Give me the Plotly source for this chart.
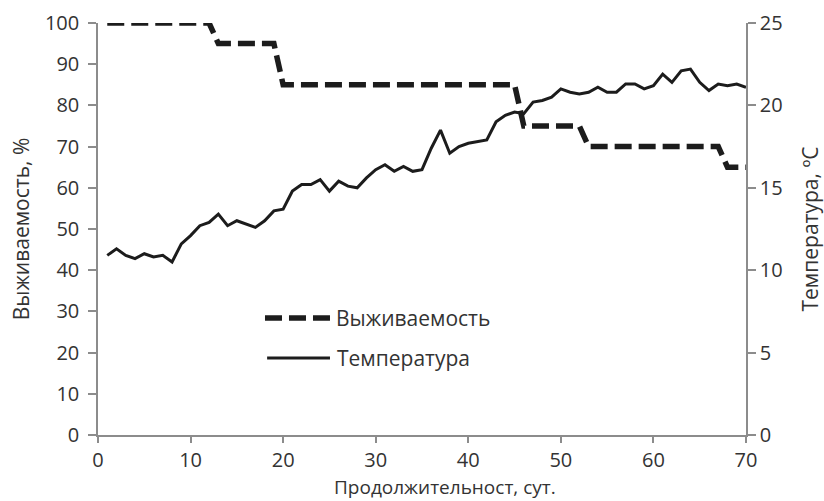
import plotly.graph_objects as go

days = list(range(1, 71))
survival = [100]*12 + [95]*7 + [85]*26 + [75]*7 + [70]*15 + [65]*3
temperature = [
    10.9, 11.3, 10.9, 10.7, 11.0, 10.8, 10.9, 10.5, 11.6, 12.1,
    12.7, 12.9, 13.4, 12.7, 13.0, 12.8, 12.6, 13.0, 13.6, 13.7,
    14.8, 15.2, 15.2, 15.5, 14.8, 15.4, 15.1, 15.0, 15.6, 16.1,
    16.4, 16.0, 16.3, 16.0, 16.1, 17.4, 18.5, 17.1, 17.5, 17.7,
    17.8, 17.9, 19.0, 19.4, 19.6, 19.5, 20.2, 20.3, 20.5, 21.0,
    20.8, 20.7, 20.8, 21.1, 20.8, 20.8, 21.3, 21.3, 21.0, 21.2,
    21.9, 21.4, 22.1, 22.2, 21.4, 20.9, 21.3, 21.2, 21.3, 21.1,
]
x_ticks = [0, 10, 20, 30, 40, 50, 60, 70]
y_left_ticks = [0, 10, 20, 30, 40, 50, 60, 70, 80, 90, 100]
y_right_ticks = [0, 5, 10, 15, 20, 25]
name_surv = "Выживаемость"
name_temp = "Температура"
x_title = "Продолжительност, сут."

FONT = "'Open Sans', Lato, sans-serif"
AX = "#8c8c8c"
TXT = "#333333"
LINE = "#1c1c1c"

fig = go.Figure()
fig.add_trace(go.Scatter(x=days, y=temperature, mode="lines", name=name_temp,
                         line=dict(color=LINE, width=3), yaxis="y2", showlegend=False))
fig.add_trace(go.Scatter(x=days, y=survival, mode="lines", name=name_surv,
                         line=dict(color=LINE, width=5.5, dash="17px,7px"), showlegend=False))

axis_common = dict(showgrid=False, zeroline=False, showline=True, linecolor=AX, linewidth=1.5,
                   ticks="outside", ticklen=8, tickcolor=AX, tickwidth=1.5, automargin=False)

fig.update_layout(
    width=824, height=501,
    margin=dict(l=98, r=78, t=23, b=66),
    paper_bgcolor="white", plot_bgcolor="white",
    font=dict(family=FONT, size=20, color=TXT),
    xaxis=dict(range=[0, 70], tickvals=x_ticks, ticklabelstandoff=0,
               **{**axis_common, "ticklen": 6}),
    yaxis=dict(range=[0, 100], tickvals=y_left_ticks, ticklabelstandoff=5,
               title=dict(text="Выживаемость, %", font=dict(size=21), standoff=10),
               **axis_common),
    yaxis2=dict(range=[0, 25], tickvals=y_right_ticks, overlaying="y", side="right",
                ticklabelstandoff=0,
                title=dict(text="Температура, ºC", font=dict(size=21), standoff=22),
                **axis_common),
)

# x-axis title (offset to the right as in the original)
fig.add_annotation(xref="paper", yref="paper", x=0.535, y=-0.127, text=x_title,
                   showarrow=False, xanchor="center", yanchor="middle", borderpad=0,
                   font=dict(size=19, color=TXT))

# Legend drawn inside the plot area
fig.add_shape(type="line", xref="paper", yref="paper", x0=0.2577, x1=0.358, y0=0.284, y1=0.284,
              line=dict(color=LINE, width=5.5, dash="17px,7px"))
fig.add_shape(type="line", xref="paper", yref="paper", x0=0.261, x1=0.358, y0=0.187, y1=0.187,
              line=dict(color=LINE, width=3))
fig.add_annotation(xref="paper", yref="paper", x=0.364, y=0.284, text=name_surv,
                   showarrow=False, xanchor="left", yanchor="middle", font=dict(size=21, color=TXT))
fig.add_annotation(xref="paper", yref="paper", x=0.366, y=0.187, text=name_temp,
                   showarrow=False, xanchor="left", yanchor="middle", font=dict(size=21, color=TXT))

fig.write_html("out.html", config={"displayModeBar": False},
               post_script="document.body.style.margin='0';document.body.style.padding='0';")
